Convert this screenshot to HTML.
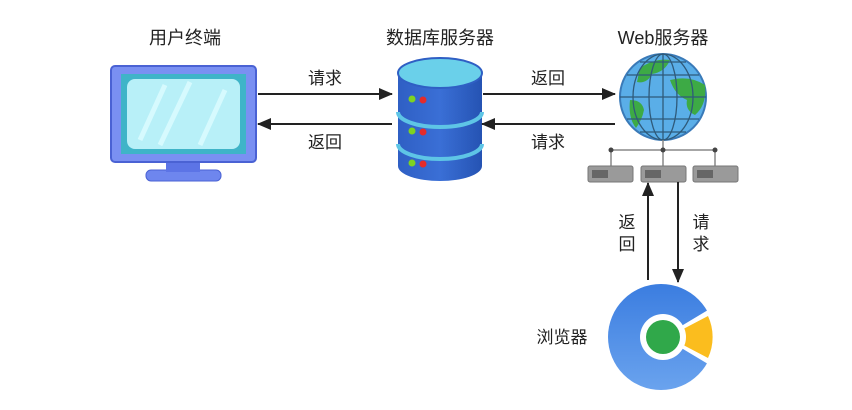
<!DOCTYPE html>
<html><head><meta charset="utf-8"><style>
html,body{margin:0;padding:0;background:#fff;width:852px;height:410px;overflow:hidden}
text{font-family:"Liberation Sans","Noto Sans CJK SC",sans-serif;fill:#222}
</style></head><body>
<svg width="852" height="410" viewBox="0 0 852 410" xmlns="http://www.w3.org/2000/svg">
<defs>
<marker id="ah" markerWidth="16" markerHeight="14" refX="13" refY="7" orient="auto" markerUnits="userSpaceOnUse"><path d="M0,1 L14,7 L0,13 z" fill="#222"/></marker>
<linearGradient id="db" x1="0" x2="1"><stop offset="0" stop-color="#2f5fc4"/><stop offset="0.5" stop-color="#3a6fd6"/><stop offset="1" stop-color="#2553b3"/></linearGradient>
<linearGradient id="br" x1="0" y1="0" x2="0" y2="1"><stop offset="0" stop-color="#3b7de0"/><stop offset="1" stop-color="#6aa3ee"/></linearGradient>
</defs>
<g font-size="18" text-anchor="middle">
<text x="185" y="44">用户终端</text>
<text x="440" y="44">数据库服务器</text>
<text x="663" y="44">Web服务器</text>
</g>
<!-- monitor -->
<rect x="146" y="170" width="75" height="11" rx="5" fill="#6e86ee" stroke="#4a62d4"/>
<rect x="166" y="160" width="34" height="12" fill="#5c74e6"/>
<rect x="111" y="66" width="145" height="96" rx="4" fill="#7a90f2" stroke="#4a62d4" stroke-width="2"/>
<rect x="121" y="74" width="125" height="80" fill="#3fb4c8"/>
<rect x="127" y="79" width="113" height="70" rx="8" fill="#b8f0f8"/>
<path d="M140 140 L165 85 M160 145 L190 82 M200 145 L225 90" stroke="#d6fafe" stroke-width="5"/>
<!-- arrows left -->
<line x1="258" y1="94" x2="392" y2="94" stroke="#222" stroke-width="2" marker-end="url(#ah)"/>
<line x1="392" y1="124" x2="258" y2="124" stroke="#222" stroke-width="2" marker-end="url(#ah)"/>
<g font-size="17" text-anchor="middle">
<text x="325" y="84">请求</text><text x="325" y="148">返回</text>
<text x="548" y="84">返回</text><text x="548" y="148">请求</text>
</g>
<!-- db -->
<g>
<path d="M398 148 v18 a42 15 0 0 0 84 0 v-18 z" fill="url(#db)"/>
<path d="M398 116 v28 a42 15 0 0 0 84 0 v-28 z" fill="url(#db)"/>
<path d="M398 74 v38 a42 15 0 0 0 84 0 v-38 z" fill="url(#db)"/>
<path d="M398 112 a42 15 0 0 0 84 0" fill="none" stroke="#5ec5e6" stroke-width="4"/>
<path d="M398 144 a42 15 0 0 0 84 0" fill="none" stroke="#5ec5e6" stroke-width="4"/>
<ellipse cx="440" cy="73" rx="42" ry="15" fill="#6ad0ea" stroke="#2f5fc4" stroke-width="2"/>
<circle cx="412" cy="99" r="3.5" fill="#7ed321"/><circle cx="423" cy="100" r="3.5" fill="#e52b2b"/>
<circle cx="412" cy="131" r="3.5" fill="#7ed321"/><circle cx="423" cy="132" r="3.5" fill="#e52b2b"/>
<circle cx="412" cy="163" r="3.5" fill="#7ed321"/><circle cx="423" cy="164" r="3.5" fill="#e52b2b"/>
</g>
<line x1="483" y1="94" x2="615" y2="94" stroke="#222" stroke-width="2" marker-end="url(#ah)"/>
<line x1="615" y1="124" x2="482" y2="124" stroke="#222" stroke-width="2" marker-end="url(#ah)"/>
<!-- globe -->
<circle cx="663" cy="97" r="43" fill="#5aaee8" stroke="#3a7ab8" stroke-width="2"/>
<path d="M640 68 q15 -10 30 -8 q-5 12 -18 14 q-5 10 -15 8 z M670 80 q20 -5 35 5 q2 20 -10 30 q-10 -5 -8 -15 q-12 -5 -17 -20 z M630 100 q12 0 14 10 q-2 10 -8 18 q-8 -10 -6 -28z" fill="#3daa45"/>
<g fill="none" stroke="#2f5a7a" stroke-width="1.3">
<ellipse cx="663" cy="97" rx="14" ry="43"/><ellipse cx="663" cy="97" rx="30" ry="43"/>
<line x1="663" y1="54" x2="663" y2="140"/><line x1="620" y1="97" x2="706" y2="97"/>
<path d="M627 75 h72 M627 119 h72 M640 62 h46 M640 132 h46"/>
</g>
<!-- network -->
<g stroke="#888" stroke-width="1.5"><line x1="663" y1="140" x2="663" y2="166"/><line x1="611" y1="150" x2="715" y2="150"/><line x1="611" y1="150" x2="611" y2="166"/><line x1="715" y1="150" x2="715" y2="166"/></g>
<g fill="#444"><circle cx="611" cy="150" r="2.5"/><circle cx="663" cy="150" r="2.5"/><circle cx="715" cy="150" r="2.5"/></g>
<g>
<rect x="588" y="166" width="45" height="16" rx="2" fill="#9a9a9a" stroke="#777"/>
<rect x="641" y="166" width="45" height="16" rx="2" fill="#9a9a9a" stroke="#777"/>
<rect x="693" y="166" width="45" height="16" rx="2" fill="#9a9a9a" stroke="#777"/>
<rect x="592" y="170" width="16" height="8" fill="#666"/><rect x="645" y="170" width="16" height="8" fill="#666"/><rect x="697" y="170" width="16" height="8" fill="#666"/>
</g>
<line x1="648" y1="280" x2="648" y2="183" stroke="#222" stroke-width="2" marker-end="url(#ah)"/>
<line x1="678" y1="182" x2="678" y2="282" stroke="#222" stroke-width="2" marker-end="url(#ah)"/>
<g font-size="17" text-anchor="middle">
<text x="627" y="228">返</text><text x="627" y="250">回</text>
<text x="701" y="228">请</text><text x="701" y="250">求</text>
<text x="562" y="343">浏览器</text>
</g>
<!-- browser -->
<circle cx="661" cy="337" r="53" fill="url(#br)"/>
<path d="M663 337 L708 310 A53 53 0 0 1 708 364 Z" fill="#fff"/>
<path d="M668 337 L708 316 A50 50 0 0 1 708 358 Z" fill="#fbbd1e"/>
<circle cx="663" cy="337" r="23" fill="#fff"/>
<circle cx="663" cy="337" r="17" fill="#30a84a"/>
</svg>
</body></html>
